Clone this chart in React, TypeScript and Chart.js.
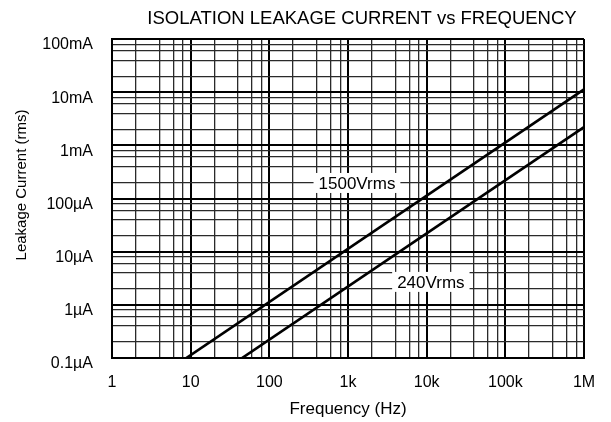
import { useEffect, useRef } from 'react';
import { Chart, registerables } from 'chart.js';

Chart.register(...registerables);

const chartTitle = 'ISOLATION LEAKAGE CURRENT vs FREQUENCY';
const xAxisTitle = 'Frequency (Hz)';
const yAxisTitle = 'Leakage Current (rms)';

const xDecades = [1, 10, 100, 1e3, 1e4, 1e5, 1e6];
const xTickLabels = ['1', '10', '100', '1k', '10k', '100k', '1M'];
const yDecades = [1e-7, 1e-6, 1e-5, 1e-4, 1e-3, 1e-2, 1e-1];
const yTickLabels = ['0.1µA', '1µA', '10µA', '100µA', '1mA', '10mA', '100mA'];
const minorSteps = [2, 4, 6, 8];

const seriesNames = ['1500Vrms', '240Vrms'];
const freq1500 = [8.8, 1e6];
const current1500 = [1e-7, 1.13e-2];
const freq240 = [45, 1e6];
const current240 = [1e-7, 2.2e-3];
const labelFreq = [1300, 11300];
const labelCurrent = [1.96e-4, 2.7e-6];

const FONT = '"Liberation Sans", Arial, Helvetica, sans-serif';

function buildTicks(decades: number[]) {
  const out: number[] = [];
  decades.forEach((d, i) => {
    out.push(d);
    if (i < decades.length - 1) minorSteps.forEach((m) => out.push(d * m));
  });
  return out;
}

function decadeIndex(value: number, decades: number[]) {
  return decades.findIndex((d) => Math.abs(value / d - 1) < 1e-6);
}

function toPoints(xs: number[], ys: number[]) {
  return xs.map((x, i) => ({ x, y: ys[i] }));
}

const textPlugin = {
  id: 'textPlugin',
  afterDatasetsDraw(chart: any) {
    const { ctx, scales } = chart;
    const xs = scales.x;
    const ys = scales.y;
    ctx.save();
    ctx.fillStyle = '#000';
    // title
    ctx.font = `18.5px ${FONT}`;
    ctx.textAlign = 'center';
    ctx.textBaseline = 'alphabetic';
    ctx.fillText(chartTitle, 362, 24);
    // x title
    ctx.font = `17px ${FONT}`;
    ctx.fillText(xAxisTitle, (chart.chartArea.left + chart.chartArea.right) / 2, 414);
    // y title
    ctx.save();
    ctx.translate(22, 185);
    ctx.rotate(-Math.PI / 2);
    ctx.textBaseline = 'middle';
    ctx.font = `15px ${FONT}`;
    ctx.fillText(yAxisTitle, 0, 0);
    ctx.restore();
    // series labels
    ctx.font = `17px ${FONT}`;
    ctx.textBaseline = 'middle';
    seriesNames.forEach((name, i) => {
      const px = xs.getPixelForValue(labelFreq[i]);
      const py = ys.getPixelForValue(labelCurrent[i]);
      const w = ctx.measureText(name).width + 10;
      const h = 20;
      ctx.fillStyle = '#fff';
      ctx.fillRect(px - w / 2, py - h / 2, w, h);
      ctx.fillStyle = '#000';
      ctx.fillText(name, px, py + 1);
    });
    ctx.restore();
  },
};

function gridColor(ctx: any, decades: number[]) {
  const v = ctx.tick ? ctx.tick.value : 0;
  return decadeIndex(v, decades) >= 0 ? '#000' : '#2a2a2a';
}
function gridWidth(ctx: any, decades: number[]) {
  const v = ctx.tick ? ctx.tick.value : 0;
  return decadeIndex(v, decades) >= 0 ? 2 : 1.3;
}

export default function App() {
  const ref = useRef<HTMLCanvasElement | null>(null);
  useEffect(() => {
    document.body.style.margin = '0';
    if (!ref.current) return;
    const chart = new Chart(ref.current, {
      type: 'line',
      data: {
        datasets: [
          {
            label: seriesNames[0],
            data: toPoints(freq1500, current1500),
            borderColor: '#000',
            borderWidth: 2.7,
            pointRadius: 0,
            fill: false,
          },
          {
            label: seriesNames[1],
            data: toPoints(freq240, current240),
            borderColor: '#000',
            borderWidth: 2.7,
            pointRadius: 0,
            fill: false,
          },
        ],
      },
      options: {
        responsive: false,
        animation: false,
        layout: { padding: { left: 0, right: 27, top: 39, bottom: 0 } },
        plugins: {
          legend: { display: false },
          tooltip: { enabled: false },
          title: { display: false },
        },
        scales: {
          x: {
            type: 'logarithmic',
            min: 1,
            max: 1e6,
            afterBuildTicks: (scale: any) => {
              scale.ticks = buildTicks(xDecades).map((v) => ({ value: v }));
            },
            afterFit: (scale: any) => {
              scale.height = 64;
            },
            ticks: {
              autoSkip: false,
              maxRotation: 0,
              minRotation: 0,
              padding: 15,
              color: '#000',
              font: { size: 16, family: FONT },
              callback: (value: any) => {
                const i = decadeIndex(Number(value), xDecades);
                return i >= 0 ? xTickLabels[i] : '';
              },
            },
            grid: {
              drawTicks: false,
              color: (c: any) => gridColor(c, xDecades),
              lineWidth: (c: any) => gridWidth(c, xDecades),
            },
            border: { display: true, color: '#000', width: 2 },
          },
          y: {
            type: 'logarithmic',
            min: 1e-7,
            max: 1e-1,
            afterBuildTicks: (scale: any) => {
              scale.ticks = buildTicks(yDecades).map((v) => ({ value: v }));
            },
            afterFit: (scale: any) => {
              scale.width = 112;
            },
            ticks: {
              autoSkip: false,
              padding: 19,
              labelOffset: 6,
              color: '#000',
              font: { size: 16, family: FONT },
              callback: (value: any) => {
                const i = decadeIndex(Number(value), yDecades);
                return i >= 0 ? yTickLabels[i] : '';
              },
            },
            grid: {
              drawTicks: false,
              color: (c: any) => gridColor(c, yDecades),
              lineWidth: (c: any) => gridWidth(c, yDecades),
            },
            border: { display: true, color: '#000', width: 2 },
          },
        },
      },
      plugins: [textPlugin],
    } as any);
    return () => chart.destroy();
  }, []);
  return <canvas ref={ref} width={611} height={422} style={{ display: 'block' }} />;
}
